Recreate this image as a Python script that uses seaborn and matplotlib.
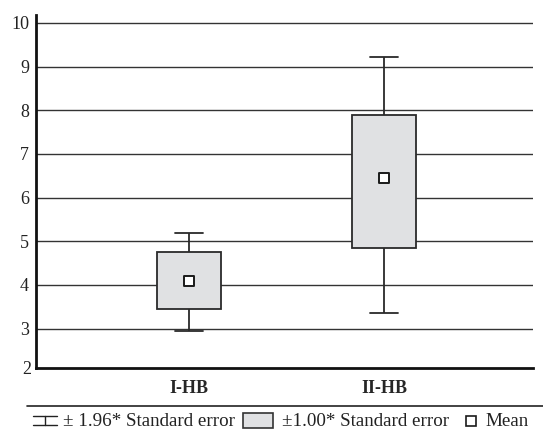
import matplotlib
matplotlib.use('Agg')
import seaborn as sns
import matplotlib.pyplot as plt
from matplotlib.patches import Rectangle
from matplotlib.lines import Line2D
import matplotlib.transforms as mtransforms
import pandas as pd
import numpy as np

# values
groups = ["I-HB", "II-HB"]
means = [4.09, 6.45]
se1_low = [3.45, 4.85]     # mean - 1.00*SE
se1_high = [4.75, 7.89]    # mean + 1.00*SE
se196_low = [2.94, 3.35]   # mean - 1.96*SE
se196_high = [5.20, 9.22]  # mean + 1.96*SE
y_ticks = [3, 4, 5, 6, 7, 8, 9, 10]
legend_labels = ["± 1.96* Standard error", "±1.00* Standard error", "Mean"]

# five points per group so the box shows +-1 SE and whiskers +-1.96 SE
rows = []
for i, g in enumerate(groups):
    for v in (se196_low[i], se1_low[i], means[i], se1_high[i], se196_high[i]):
        rows.append({"group": g, "value": v})
df = pd.DataFrame(rows)

sns.set_style("white")
plt.rcParams['font.family'] = ['Liberation Serif', 'DejaVu Serif']

W, H = 543, 432
fig = plt.figure(figsize=(W / 100, H / 100), dpi=100)
ax = fig.add_axes([36 / W, 1 - 368 / H, 497 / W, 353 / H])

for y in y_ticks:
    ax.axhline(y, color='#333333', lw=1.0, zorder=0)

sns.boxplot(data=df, x="group", y="value", ax=ax, whis=(0, 100), width=0.33,
            color='#e0e1e3', linecolor='#2a2a2a', linewidth=1.3,
            medianprops={'visible': False}, showfliers=False, capwidths=0.14)
sns.scatterplot(x=groups, y=means, ax=ax, marker='s', s=60, color='white',
                edgecolor='#1a1a1a', linewidth=1.4, zorder=5)

ax.set_xlim(-0.785, 1.764)
ax.set_ylim(2.1, 10.18)
ax.set_yticks(y_ticks)
ax.set_xlabel("")
ax.set_ylabel("")
ax.tick_params(axis='y', labelsize=13, length=0, pad=5, colors='#222222')
ax.tick_params(axis='x', labelsize=13, length=0, pad=8.5)
for lab in ax.get_xticklabels():
    lab.set_fontweight('bold')
# the "2" label sits just under the bottom axis line
tr = mtransforms.blended_transform_factory(ax.transAxes, ax.transData)
ax.text(-5 / 497, 2.06, "2", transform=tr, ha='right', va='center',
        fontsize=13, color='#222222', clip_on=False)
sns.despine(ax=ax, top=True, right=True)
for side in ('left', 'bottom'):
    ax.spines[side].set_linewidth(2.0)
    ax.spines[side].set_color('#111111')


# legend drawn in figure pixel coordinates
def fx(px):
    return px / W


def fy(py):
    return 1 - py / H


fig.add_artist(Line2D([fx(27), 1.0], [fy(406), fy(406)], color='#222222', lw=1.2))
ly = 421
for yy in (416, 425):
    fig.add_artist(Line2D([fx(33), fx(57)], [fy(yy), fy(yy)], color='#222222', lw=1.0))
fig.add_artist(Line2D([fx(45), fx(45)], [fy(416), fy(425)], color='#222222', lw=1.0))
fig.text(fx(63), fy(ly), legend_labels[0], fontsize=13.7, va='center', ha='left', color='#222222')
fig.add_artist(Rectangle((fx(243), fy(428)), fx(30), 15 / H, facecolor='#e0e1e3',
                         edgecolor='#333333', lw=1.2))
fig.text(fx(282), fy(ly), legend_labels[1], fontsize=13.7, va='center', ha='left', color='#222222')
fig.add_artist(Line2D([fx(471)], [fy(ly)], marker='s', markersize=7, linestyle='none',
                      markerfacecolor='white', markeredgecolor='#1a1a1a', markeredgewidth=1.2))
fig.text(fx(485), fy(ly), legend_labels[2], fontsize=13.7, va='center', ha='left', color='#222222')

plt.savefig("out.png", dpi=100)
